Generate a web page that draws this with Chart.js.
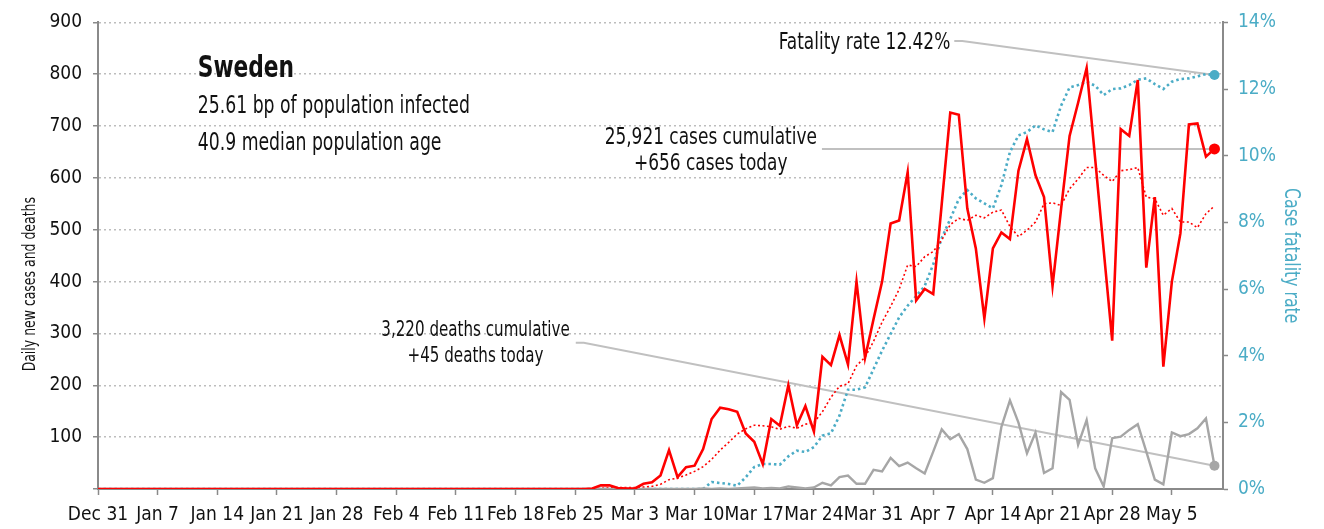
<!DOCTYPE html>
<html lang="en">
<head>
  <meta charset="UTF-8" />
  <title>Sweden | daily cases, deaths and fatality rate</title>
  <script src="https://cdn.jsdelivr.net/npm/chart.js"></script>
  <style>
    body { margin: 0; background: #fff; }
    .wrap { width: 1324px; height: 529px; position: relative; }
  </style>
</head>
<body>
  <div class="wrap"><canvas id="chart"></canvas></div>

  <script>
    // x axis: one category per day, Dec 31 2019 .. May 11 2020
    const firstDay = new Date(2019, 11, 31);
    const dayCount = 133;
    const tickLabels = ["Dec 31", "Jan 7", "Jan 14", "Jan 21", "Jan 28", "Feb 4", "Feb 11", "Feb 18", "Feb 25",
      "Mar 3", "Mar 10", "Mar 17", "Mar 24", "Mar 31", "Apr 7", "Apr 14", "Apr 21", "Apr 28", "May 5"];

    // daily new cases (Dec 31 .. May 10)
    const cases = [
      0, 0, 0, 0, 0, 0, 0, 0, 0, 0,
      0, 0, 0, 0, 0, 0, 0, 0, 0, 0,
      0, 0, 0, 0, 0, 0, 0, 0, 0, 0,
      0, 0, 0, 0, 0, 0, 0, 0, 0, 0,
      0, 0, 0, 0, 0, 0, 0, 0, 0, 0,
      0, 0, 0, 0, 0, 0, 0, 0,
      1, 7, 7, 2, 1, 1,
      10, 13, 26, 75, 23, 42, 45, 77,
      135, 157, 154, 149, 107, 91, 48,
      135, 122, 200, 123, 160, 111, 255,
      239, 297, 240, 400, 253, 328, 400,
      512, 518, 611, 364, 386, 376, 550,
      726, 722, 541, 464, 329, 464, 495,
      482, 614, 675, 605, 563, 392, 540,
      681, 745, 812, 637, 461, 286, 694,
      681, 789, 427, 563, 236, 400, 493,
      703, 705, 641, 656
    ];

    // 7-day average of new cases, as drawn
    const casesAvg = [
      0, 0, 0, 0, 0, 0, 0, 0, 0, 0,
      0, 0, 0, 0, 0, 0, 0, 0, 0, 0,
      0, 0, 0, 0, 0, 0, 0, 0, 0, 0,
      0, 0, 0, 0, 0, 0, 0, 0, 0, 0,
      0, 0, 0, 0, 0, 0, 0, 0, 0, 0,
      0, 0, 0, 0, 0, 0, 0, 0,
      0.3, 1.3, 2.3, 2.6, 2.7, 2.7,
      4, 5, 9, 18, 21, 27, 34, 43,
      57, 75, 90, 106, 116, 123, 122,
      120, 115, 121, 117, 125, 128, 149,
      177, 198, 203, 238, 254, 285, 322,
      352, 385, 432, 429, 448, 458, 480,
      510, 522, 518, 528, 523, 534, 538,
      506, 487, 499, 515, 550, 552, 547,
      579, 598, 620, 620, 605, 593, 614,
      616, 620, 563, 560, 528, 541, 515,
      515, 504, 531, 546
    ];

    // daily deaths
    const deaths = [
      0, 0, 0, 0, 0, 0, 0, 0, 0, 0,
      0, 0, 0, 0, 0, 0, 0, 0, 0, 0,
      0, 0, 0, 0, 0, 0, 0, 0, 0, 0,
      0, 0, 0, 0, 0, 0, 0, 0, 0, 0,
      0, 0, 0, 0, 0, 0, 0, 0, 0, 0,
      0, 0, 0, 0, 0, 0, 0, 0,
      0, 0, 0, 0, 0, 0,
      0, 0, 0, 0, 0, 0, 0, 1,
      0, 1, 0, 1, 2, 3, 1,
      2, 1, 5, 3, 1, 3, 12,
      7, 23, 26, 10, 10, 37, 34,
      60, 44, 51, 40, 30, 72, 115,
      96, 106, 77, 18, 12, 21, 120,
      171, 128, 69, 109, 31, 40, 187,
      172, 85, 133, 40, 5, 98, 101,
      114, 125, 72, 18, 9, 109, 102,
      106, 117, 136, 45
    ];

    // case fatality rate, % (right axis)
    const fatalityRate = [
      0, 0, 0, 0, 0, 0, 0, 0, 0, 0,
      0, 0, 0, 0, 0, 0, 0, 0, 0, 0,
      0, 0, 0, 0, 0, 0, 0, 0, 0, 0,
      0, 0, 0, 0, 0, 0, 0, 0, 0, 0,
      0, 0, 0, 0, 0, 0, 0, 0, 0, 0,
      0, 0, 0, 0, 0, 0, 0, 0,
      0, 0, 0, 0, 0, 0,
      0, 0, 0, 0, 0, 0, 0, 0,
      0.21, 0.18, 0.15, 0.1, 0.35, 0.66, 0.75,
      0.75, 0.73, 0.98, 1.15, 1.11, 1.26, 1.6,
      1.67, 2.2, 2.98, 2.98, 3.05, 3.6, 4.15,
      4.65, 5.15, 5.5, 5.79, 6.09, 6.74, 7.53,
      8.1, 8.7, 8.97, 8.72, 8.57, 8.42, 9.12,
      10.11, 10.61, 10.71, 10.91, 10.79, 10.71, 11.5,
      12.05, 12.12, 12.22, 12.1, 11.82, 12.0, 12.02,
      12.12, 12.28, 12.32, 12.15, 12.0, 12.22, 12.3,
      12.32, 12.38, 12.45, 12.42
    ];

    const country = "Sweden";
    const infoLines = ["25.61 bp of population infected", "40.9 median population age"];
    const fatalityNote = ["Fatality rate 12.42%"];
    const casesNote = ["25,921 cases cumulative", "+656 cases today"];
    const deathsNote = ["3,220 deaths cumulative", "+45 deaths today"];
    const leftTitle = "Daily new cases and deaths";
    const rightTitle = "Case fatality rate";

    const FONT = "'DejaVu Sans Condensed', 'Liberation Sans Narrow', sans-serif";
    const RED = '#ff0000', GREY = '#a6a6a6', BLUE = '#4bacc6', AXIS = '#8a8a8a', LEADER = '#c0c0c0';

    const months = ['Jan', 'Feb', 'Mar', 'Apr', 'May', 'Jun', 'Jul', 'Aug', 'Sep', 'Oct', 'Nov', 'Dec'];
    const days = [];
    for (let i = 0; i < dayCount; i++) {
      const d = new Date(firstDay.getFullYear(), firstDay.getMonth(), firstDay.getDate() + i);
      days.push(months[d.getMonth()] + ' ' + d.getDate());
    }

    const last = cases.length - 1;
    const endDot = r => ctx => ctx.dataIndex === last ? r : 0;

    function leader(ctx, x0, y0, x1, y1) {
      ctx.beginPath();
      ctx.moveTo(x0, y0);
      ctx.lineTo(x0 + 8, y0);
      ctx.lineTo(x1, y1);
      ctx.stroke();
    }

    function widest(ctx, lines) {
      return Math.max(...lines.map(t => ctx.measureText(t).width));
    }

    // the chart font is a bit wide, so text is squeezed horizontally
    function squeezed(ctx, text, x, y, sx, align, angle) {
      ctx.save();
      ctx.translate(x, y);
      if (angle) ctx.rotate(angle);
      ctx.scale(sx, 1);
      ctx.textAlign = align;
      ctx.fillText(text, 0, 0);
      ctx.restore();
    }

    const NOTE = { font: '23px ' + FONT, sx: 0.82 };
    const SMALL_NOTE = { font: '21px ' + FONT, sx: 0.8 };

    // text boxes, axis titles and leader lines
    const notes = {
      id: 'notes',
      beforeDatasetsDraw(chart) {
        const { ctx } = chart;
        const { x, y, y1 } = chart.scales;
        const ex = x.getPixelForValue(last);
        ctx.save();
        ctx.strokeStyle = LEADER;
        ctx.lineWidth = 2;

        leader(ctx, x.getPixelForValue(100) + 4, y.getPixelForValue(864), ex, y1.getPixelForValue(fatalityRate[last]));

        ctx.font = NOTE.font;
        const cx = x.getPixelForValue(71.9) + widest(ctx, casesNote) * NOTE.sx / 2 + 5;
        const cy = y.getPixelForValue(cases[last]);
        ctx.beginPath(); ctx.moveTo(cx, cy); ctx.lineTo(ex, cy); ctx.stroke();

        ctx.font = SMALL_NOTE.font;
        const dx = x.getPixelForValue(44.3) + widest(ctx, deathsNote) * SMALL_NOTE.sx / 2 + 6;
        leader(ctx, dx, y.getPixelForValue(282), ex, y.getPixelForValue(deaths[last]));
        ctx.restore();
      },
      afterDatasetsDraw(chart) {
        const { ctx, chartArea } = chart;
        const { x, y } = chart.scales;
        ctx.save();
        ctx.fillStyle = '#111';
        ctx.textBaseline = 'middle';

        const lx = x.getPixelForValue(11.7);
        ctx.font = 'bold 31px ' + FONT;
        squeezed(ctx, country, lx, y.getPixelForValue(810), 0.78, 'left');
        ctx.font = '24px ' + FONT;
        squeezed(ctx, infoLines[0], lx, y.getPixelForValue(737), 0.8, 'left');
        squeezed(ctx, infoLines[1], lx, y.getPixelForValue(666), 0.8, 'left');

        ctx.font = NOTE.font;
        squeezed(ctx, fatalityNote[0], x.getPixelForValue(100), y.getPixelForValue(860), NOTE.sx, 'right');
        squeezed(ctx, casesNote[0], x.getPixelForValue(71.9), y.getPixelForValue(677), NOTE.sx, 'center');
        squeezed(ctx, casesNote[1], x.getPixelForValue(71.9), y.getPixelForValue(627), NOTE.sx, 'center');
        ctx.font = SMALL_NOTE.font;
        squeezed(ctx, deathsNote[0], x.getPixelForValue(44.3), y.getPixelForValue(305), SMALL_NOTE.sx, 'center');
        squeezed(ctx, deathsNote[1], x.getPixelForValue(44.3), y.getPixelForValue(255), SMALL_NOTE.sx, 'center');

        // axis titles
        ctx.font = '18px ' + FONT;
        squeezed(ctx, leftTitle, chartArea.left - 68, y.getPixelForValue(395), 0.77, 'center', -Math.PI / 2);
        ctx.fillStyle = BLUE;
        ctx.font = '21px ' + FONT;
        squeezed(ctx, rightTitle, chartArea.right + 67, (chartArea.top + chartArea.bottom) / 2, 0.83, 'center', Math.PI / 2);
        ctx.restore();
      }
    };

    Chart.defaults.font.family = FONT;
    Chart.defaults.color = '#111';

    new Chart(document.getElementById('chart'), {
      type: 'line',
      data: {
        labels: days,
        datasets: [
          {
            label: 'New cases',
            data: cases,
            yAxisID: 'y',
            borderColor: RED,
            backgroundColor: RED,
            borderWidth: 2.6,
            pointRadius: endDot(5.5),
            pointBorderWidth: 0,
            tension: 0
          },
          {
            label: 'Deaths',
            data: deaths,
            yAxisID: 'y',
            borderColor: GREY,
            backgroundColor: GREY,
            borderWidth: 2.4,
            pointRadius: endDot(5),
            pointBorderWidth: 0,
            tension: 0
          },
          {
            label: 'Cases, 7-day average',
            data: casesAvg,
            yAxisID: 'y',
            borderColor: RED,
            borderWidth: 1.6,
            borderDash: [2, 2.5],
            pointRadius: 0,
            tension: 0
          },
          {
            label: 'Case fatality rate',
            data: fatalityRate,
            yAxisID: 'y1',
            borderColor: BLUE,
            backgroundColor: BLUE,
            borderWidth: 2.6,
            borderDash: [2.5, 3],
            pointRadius: endDot(5),
            pointBorderWidth: 0,
            tension: 0
          }
        ]
      },
      options: {
        responsive: true,
        maintainAspectRatio: false,
        animation: false,
        layout: { padding: { top: 20, left: 0, right: 0, bottom: 0 } },
        plugins: {
          legend: { display: false },
          tooltip: { enabled: false }
        },
        scales: {
          x: {
            type: 'category',
            offset: false,
            grid: {
              drawOnChartArea: false,
              drawTicks: true,
              tickLength: 6,
              tickWidth: 1.5,
              tickColor: AXIS
            },
            border: { color: AXIS, width: 2 },
            ticks: {
              autoSkip: false,
              maxRotation: 0,
              minRotation: 0,
              padding: 9,
              font: { size: 19 },
              color: '#111',
              callback: (v, i) => i % 7 === 0 ? tickLabels[i / 7] : null
            },
            afterFit: s => { s.height = 40; }
          },
          y: {
            position: 'left',
            min: 0,
            max: 900,
            ticks: {
              stepSize: 100,
              padding: 11,
              font: { size: 19 },
              color: '#111',
              callback: v => v === 0 ? '' : v
            },
            grid: {
              color: ctx => ctx.tick && ctx.tick.value === 0 ? 'rgba(0,0,0,0)' : '#bdbdbd',
              lineWidth: 1.5,
              drawTicks: true,
              tickLength: 5,
              tickWidth: 1.5,
              tickColor: AXIS,
              tickBorderDash: []
            },
            border: { color: AXIS, width: 2, dash: [2, 3] },
            afterFit: s => { s.width = 98; }
          },
          y1: {
            position: 'right',
            min: 0,
            max: 14,
            ticks: {
              stepSize: 2,
              padding: 10,
              font: { size: 19 },
              color: BLUE,
              callback: v => v + '%'
            },
            grid: {
              drawOnChartArea: false,
              drawTicks: true,
              tickLength: 5,
              tickWidth: 1.5,
              tickColor: AXIS
            },
            border: { color: AXIS, width: 2 },
            afterFit: s => { s.width = 101; }
          }
        }
      },
      plugins: [notes]
    });
  </script>
</body>
</html>
